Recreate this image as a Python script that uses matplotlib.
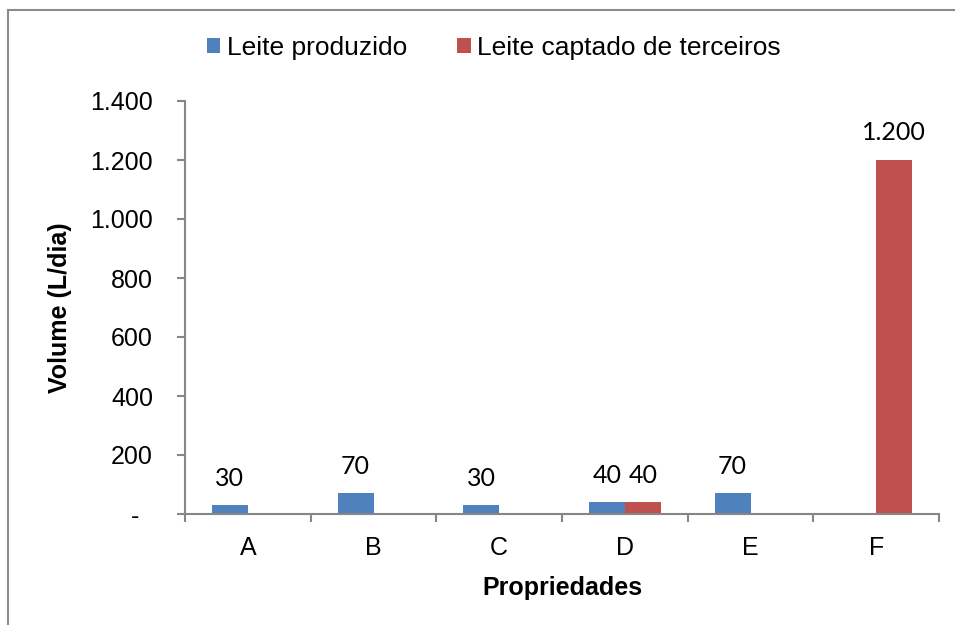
import numpy as np
import matplotlib
matplotlib.use("Agg")
import matplotlib.pyplot as plt
from matplotlib.lines import Line2D
from matplotlib.ticker import FuncFormatter

# dados
propriedades = ["A", "B", "C", "D", "E", "F"]
leite_produzido = [30, 70, 30, 40, 70, 0]
leite_captado = [0, 0, 0, 40, 0, 1200]

plt.rcParams["font.family"] = ["Liberation Sans", "DejaVu Sans"]

azul = "#4F81BD"
vermelho = "#C0504D"
cinza = "#868686"

fig = plt.figure(figsize=(9.55, 6.25), dpi=100)
ax = fig.add_axes([185 / 955, 1 - 514 / 625, 754 / 955, 413 / 625])

x = np.arange(len(propriedades))
w = 0.286
b1 = ax.bar(x - w / 2, leite_produzido, w, color=azul, label="Leite produzido")
b2 = ax.bar(x + w / 2, leite_captado, w, color=vermelho, label="Leite captado de terceiros")

# rotulos de dados (so os que nao sao zero)
for bars, vals in [(b1, leite_produzido), (b2, leite_captado)]:
    for rect, v in zip(bars, vals):
        if v == 0:
            continue
        txt = f"{v:,}".replace(",", ".")
        ax.annotate(txt, (rect.get_x() + rect.get_width() / 2, v),
                    xytext=(0, 19.5), textcoords="offset points",
                    ha="center", va="center", fontsize=18, family="Lato")

ax.set_xlim(-0.5, len(propriedades) - 0.5)
ax.set_ylim(0, 1400)
ax.set_yticks(range(0, 1401, 200))


def fmt(v, pos):
    if v == 0:
        return "-  "
    return f"{int(v):,}".replace(",", ".")


ax.yaxis.set_major_formatter(FuncFormatter(fmt))
ax.set_xticks(x)
ax.set_xticklabels(propriedades)
ax.set_xticks(np.arange(-0.5, len(propriedades)), minor=True)
ax.tick_params(axis="x", which="major", length=0, pad=16, labelsize=18)
ax.tick_params(axis="x", which="minor", length=6, width=1.5, color=cinza)
ax.tick_params(axis="y", length=6, width=1.5, color=cinza, pad=17, labelsize=18)

for s in ["top", "right"]:
    ax.spines[s].set_visible(False)
for s in ["left", "bottom"]:
    ax.spines[s].set_color(cinza)
    ax.spines[s].set_linewidth(1.5)

ax.set_ylabel("Volume (L/dia)", fontsize=18, fontweight="bold")
ax.yaxis.set_label_coords(-0.15, 0.5)
ax.set_xlabel("Propriedades", fontsize=18, fontweight="bold", va="top")
ax.xaxis.set_label_coords(0.5, -0.15)

ax.legend(loc="center", bbox_to_anchor=(494 / 955, 1 - 48 / 625),
          bbox_transform=fig.transFigure, ncol=2, frameon=False,
          fontsize=19, handlelength=0.5, handleheight=0.5,
          handletextpad=0.25, columnspacing=1.9)

# moldura do grafico
fig.add_artist(Line2D([8 / 955, 8 / 955], [0, 1 - 10 / 625], color="#8C8C8C", lw=1.5))
fig.add_artist(Line2D([8 / 955, 1], [1 - 10 / 625, 1 - 10 / 625], color="#8C8C8C", lw=1.5))

fig.savefig("out.png", dpi=100)
